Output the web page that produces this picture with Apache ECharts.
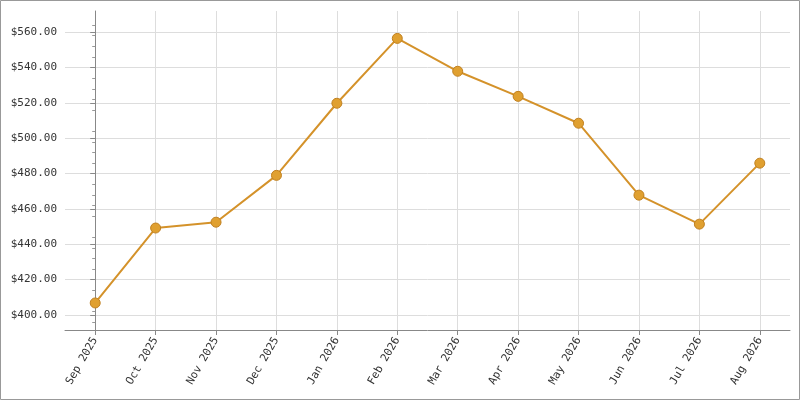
<!DOCTYPE html><html><head><meta charset="utf-8"><script src="https://cdn.jsdelivr.net/npm/echarts@6/dist/echarts.min.js"></script>
<style>html,body{margin:0;padding:0;background:#fff}#c{width:800px;height:400px}</style></head><body><div id="c"></div><script>
const categories=['Sep 2025','Oct 2025','Nov 2025','Dec 2025','Jan 2026','Feb 2026','Mar 2026','Apr 2026','May 2026','Jun 2026','Jul 2026','Aug 2026'];
const values=[406.8,449.2,452.5,479.0,519.8,556.5,537.9,523.7,508.5,467.8,451.4,485.9];
const yTicks=[400,420,440,460,480,500,520,540,560];
const ch=echarts.init(document.getElementById('c'));
const F='DejaVu Sans Mono';
const idx=categories.map((c,i)=>i);
ch.setOption({animation:false,
graphic:[{type:'rect',shape:{x:0.5,y:0.5,width:799,height:399},style:{fill:'none',stroke:'#999',lineWidth:1}}],
grid:{left:65,right:10,top:11,bottom:70},
xAxis:{type:'value',min:-0.5,max:categories.length-0.5,
 axisLine:{show:true,onZero:false,lineStyle:{color:'#888'}},axisTick:{show:true,length:5,lineStyle:{color:'#888'},customValues:idx},
 axisLabel:{rotate:60,fontFamily:F,fontSize:11,color:'#333',margin:8,customValues:idx,formatter:v=>categories[Math.round(v)]},
 splitLine:{show:true,lineStyle:{color:'#ddd'}}},
yAxis:{type:'value',min:391.5,max:572,
 axisLine:{show:true,lineStyle:{color:'#888'}},
 axisTick:{show:true,length:5,lineStyle:{color:'#888'},customValues:yTicks},
 minorTick:{show:true,splitNumber:5,length:3,lineStyle:{color:'#999'}},
 axisLabel:{fontFamily:F,fontSize:11,color:'#333',formatter:v=>'$'+v.toFixed(2),customValues:yTicks},
 splitLine:{show:true,lineStyle:{color:'#ddd'}}},
series:[{type:'line',data:values.map((v,i)=>[i,v]),symbol:'circle',symbolSize:10,
 lineStyle:{color:'#d4922a',width:2},itemStyle:{color:'#e0a030',borderColor:'#c08020',borderWidth:1}}]
});
</script></body></html>
